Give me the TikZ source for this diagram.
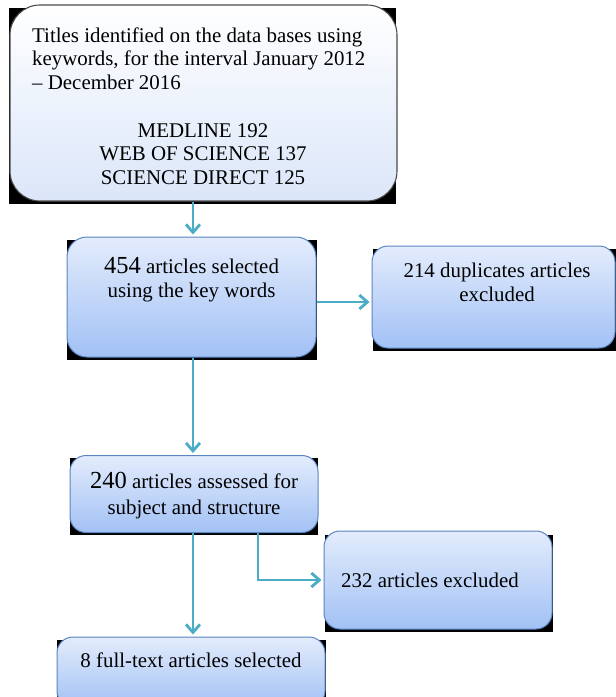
\documentclass[tikz,border=0pt]{standalone}
\usepackage{fontspec}
\setmainfont{Liberation Serif}
\usetikzlibrary{arrows.meta}
\definecolor{arrowc}{HTML}{4BACC6}
\definecolor{boxedge}{HTML}{5A86C0}
\definecolor{boxtop}{HTML}{E3ECFC}
\definecolor{boxbot}{HTML}{A2C1F5}
\definecolor{firsttop}{HTML}{FFFFFF}
\definecolor{firstbot}{HTML}{DBE6F9}
\definecolor{firstedge}{HTML}{4A4A4A}
\begin{document}
\begin{tikzpicture}[x=1pt,y=-1pt,
  shadowrect/.style={fill=black},
  firstbox/.style={draw=firstedge, line width=1.1pt, rounded corners=30pt, top color=firsttop, bottom color=firstbot, inner sep=0pt},
  bluebox/.style={draw=boxedge, line width=1pt, rounded corners=16pt, top color=boxtop, bottom color=boxbot, inner sep=0pt},
  txt/.style={inner sep=0pt, font=\rmfamily\fontsize{20.9}{24}\selectfont, text=black},
  arr/.style={draw=arrowc, line width=2.8pt, -{Straight Barb[length=8pt, width=14pt, line width=2.8pt]}, shorten >=2pt}]
\useasboundingbox (0,0) rectangle (616,697);
% dark backdrops behind the boxes
\fill[shadowrect] (9,8) rectangle (396,204);
\fill[shadowrect] (67,240) rectangle (317,360);
\fill[shadowrect] (373,249) rectangle (616,351);
\fill[shadowrect] (70,458) rectangle (318,535);
\fill[shadowrect] (325,535) rectangle (553,632);
\fill[shadowrect] (57,640) rectangle (326,700);
% boxes
\node[firstbox, minimum width=387pt, minimum height=196pt] (b1) at (203.5,103) {};
\node[bluebox, rounded corners=20pt, minimum width=249pt, minimum height=120pt] (b2) at (191.5,297) {};
\node[bluebox, minimum width=243pt, minimum height=102pt] (b3) at (493.5,297) {};
\node[bluebox, minimum width=248pt, minimum height=77pt] (b4) at (194,494) {};
\node[bluebox, minimum width=228pt, minimum height=98pt] (b5) at (438,580) {};
\node[bluebox, minimum width=268pt, minimum height=70pt] (b6) at (191,672) {};
% texts
\node[txt, anchor=base west] (t1a) at (32,42.5) {Titles identified on the data bases using};
\node[txt, anchor=base west] (t1b) at (32,65.8) {keywords, for the interval January 2012};
\node[txt, anchor=base west] (t1c) at (32,89) {– December 2016};
\node[txt, anchor=base] (t1d) at (203,137) {MEDLINE 192};
\node[txt, anchor=base] (t1e) at (203,160.7) {WEB OF SCIENCE 137};
\node[txt, anchor=base] (t1f) at (203,184.3) {SCIENCE DIRECT 125};
\node[txt, anchor=base] (t2a) at (191.5,273) {{\fontsize{24.5}{24}\selectfont 454} articles selected};
\node[txt, anchor=base] (t2b) at (191.5,297.5) {using the key words};
\node[txt, anchor=base] (t3a) at (497,277.5) {214 duplicates articles};
\node[txt, anchor=base] (t3b) at (497,301.5) {excluded};
\node[txt, anchor=base] (t4a) at (194,488) {{\fontsize{24.5}{24}\selectfont 240} articles assessed for};
\node[txt, anchor=base] (t4b) at (194,514) {subject and structure};
\node[txt, anchor=base west] (t5a) at (341,587) {232 articles excluded};
\node[txt, anchor=base] (t6a) at (191,667) {8 full-text articles selected};
% connector guides
\coordinate (ax) at (193,0);
\coordinate (ay) at (0,302);
\coordinate (bx) at (258,0);
% connectors
\draw[arr] (b1.south -| ax) -- (b2.north -| ax);
\draw[arr] (b2.east |- ay) -- (b3.west |- ay);
\draw[arr] (b2.south -| ax) -- (b4.north -| ax);
\draw[arr] (b4.south -| ax) -- (b6.north -| ax);
\draw[arr] (b4.south -| bx) |- (b5.west);
\end{tikzpicture}
\end{document}
